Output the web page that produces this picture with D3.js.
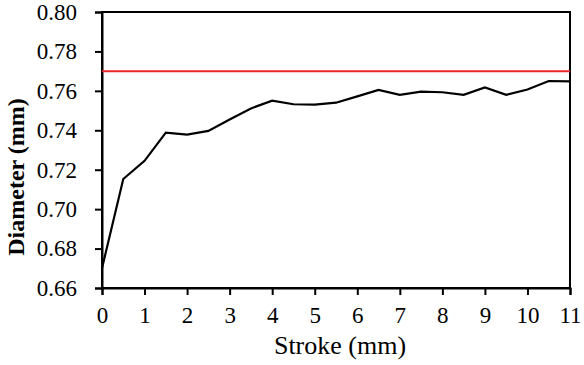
<!DOCTYPE html>
<html>
<head>
<meta charset="utf-8">
<script src="https://cdn.jsdelivr.net/npm/d3@7"></script>
<style>
  body { margin: 0; background: #fff; }
  svg { display: block; }
</style>
</head>
<body>
<svg id="chart"></svg>
<script>
// Diameter vs stroke

const width = 584;
const height = 365;
const serif = "'Liberation Serif', 'DejaVu Serif', serif";

const stroke = [0, 0.5, 1, 1.5, 2, 2.5, 3, 3.5, 4, 4.5, 5, 5.5, 6, 6.5, 7, 7.5, 8, 8.5, 9, 9.5, 10, 10.5, 11];
const diameter = [0.670, 0.7153, 0.7245, 0.7388, 0.7378, 0.7397, 0.7455, 0.7511, 0.7550, 0.7532, 0.7530, 0.7540, 0.7572, 0.7605, 0.7580, 0.7596, 0.7593, 0.7580, 0.7617, 0.7580, 0.7607, 0.7650, 0.7648];
const target = [0.77];

const xTicks = [0, 1, 2, 3, 4, 5, 6, 7, 8, 9, 10, 11];
const yTicks = [0.66, 0.68, 0.70, 0.72, 0.74, 0.76, 0.78, 0.80];

const margin = { top: 12, right: 14, bottom: 77, left: 102 };

const svg = d3.select("#chart").attr("width", width).attr("height", height);

const x = d3.scaleLinear().domain([0, 11]).range([margin.left, width - margin.right]);
const y = d3.scaleLinear().domain([0.66, 0.80]).range([height - margin.bottom, margin.top]);

// frame (top and right)
svg.append("rect")
    .attr("x", x(0))
    .attr("y", y(0.80))
    .attr("width", x(11) - x(0))
    .attr("height", y(0.66) - y(0.80))
    .attr("fill", "none")
    .attr("stroke", "#000")
    .attr("stroke-width", 2);

// axes
const xAxis = svg.append("g")
    .attr("transform", `translate(0,${y(0.66)})`)
    .call(d3.axisBottom(x).tickValues(xTicks).tickSize(7).tickPadding(12).tickFormat(d3.format("d")));

const yAxis = svg.append("g")
    .attr("transform", `translate(${x(0)},0)`)
    .call(d3.axisLeft(y).tickValues(yTicks).tickSize(7).tickPadding(18).tickFormat(d3.format(".2f")));

[xAxis, yAxis].forEach(g => {
    g.attr("font-family", serif).attr("font-size", 23);
    g.select(".domain").attr("stroke-width", 2);
    g.selectAll(".tick line").attr("stroke-width", 2);
    g.selectAll("text").style("font-family", serif).style("font-size", "23px").attr("fill", "#000");
});

// target line
svg.selectAll(".target")
    .data(target)
    .enter().append("line")
    .attr("class", "target")
    .attr("x1", x(0))
    .attr("x2", x(11))
    .attr("y1", d => y(d))
    .attr("y2", d => y(d))
    .attr("stroke", "#e8262b")
    .attr("stroke-width", 2);

// data line
const line = d3.line()
    .x((d, i) => x(stroke[i]))
    .y(d => y(d));

svg.append("path")
    .datum(diameter)
    .attr("d", line)
    .attr("fill", "none")
    .attr("stroke", "#000")
    .attr("stroke-width", 2.2);

// axis titles
svg.append("text")
    .attr("x", 340)
    .attr("y", 354)
    .attr("text-anchor", "middle")
    .style("font-family", serif)
    .style("font-size", "26px")
    .text("Stroke (mm)");

svg.append("text")
    .attr("transform", `translate(24,${177}) rotate(-90)`)
    .attr("text-anchor", "middle")
    .style("font-family", serif)
    .style("font-size", "24px")
    .style("font-weight", "bold")
    .text("Diameter (mm)");
</script>
</body>
</html>
